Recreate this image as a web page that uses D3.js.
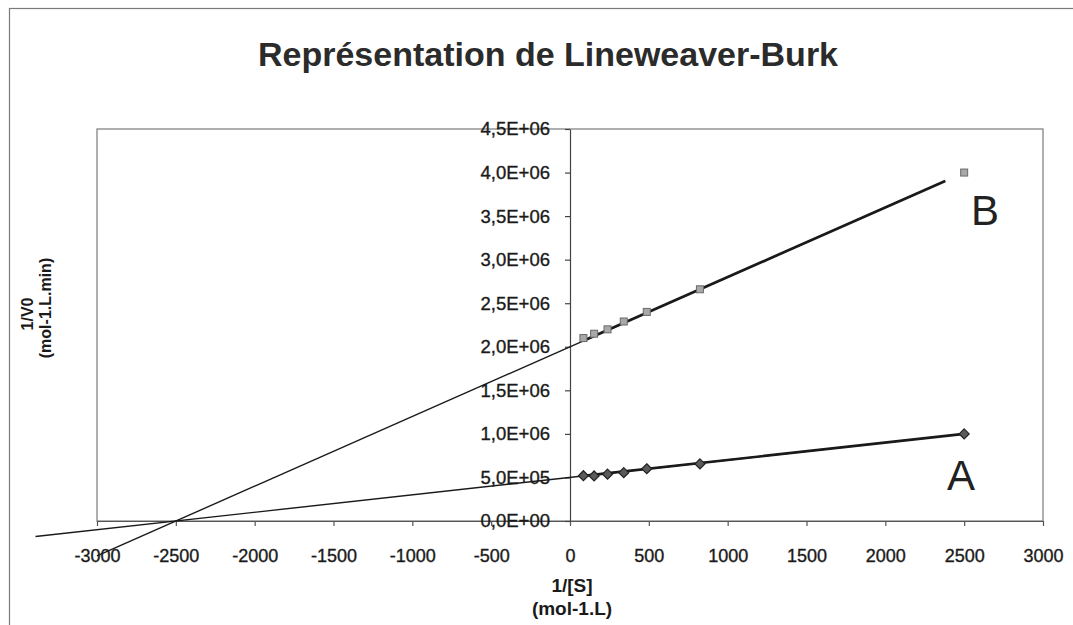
<!DOCTYPE html>
<html>
<head>
<meta charset="utf-8">
<script src="https://cdn.jsdelivr.net/npm/d3@7"></script>
<style>
  html, body { margin: 0; padding: 0; background: #fff; }
  svg { display: block; font-family: "Liberation Sans", Arial, sans-serif; }
</style>
</head>
<body>
<svg id="chart" width="1073" height="625"></svg>
<script>
// 1/[S] values (mol-1.L)
const invS = [85, 153, 238, 341, 487, 824, 2500];
// 1/V0 values (mol-1.L.min) for series A and B
const seriesA = [5.2e5, 5.17e5, 5.38e5, 5.55e5, 6.0e5, 6.55e5, 1.0e6];
const seriesB = [2.1e6, 2.15e6, 2.2e6, 2.29e6, 2.4e6, 2.66e6, 4.0e6];
// Fitted lines: [intercept, slope] and the 1/[S] span they are drawn over
const fitA = [5.0e5, 200];
const fitB = [2.0e6, 800];
const spanA = [-3390, 2500];
const spanB = [-3000, 2380];
// Tick labels
const xTicks = [-3000, -2500, -2000, -1500, -1000, -500, 0, 500, 1000, 1500, 2000, 2500, 3000];
const yTicks = [0, 5e5, 1e6, 1.5e6, 2e6, 2.5e6, 3e6, 3.5e6, 4e6, 4.5e6];

const svg = d3.select("#chart");
const ink = "#1a1a1a";
const frame = "#7a7a7a";

const x = d3.scaleLinear().domain([-3000, 3000]).range([97, 1043]);
const y = d3.scaleLinear().domain([0, 4.5e6]).range([521, 129]);

// Outer chart border
svg.append("rect")
  .attr("x", 9.5).attr("y", 8.5)
  .attr("width", 1090).attr("height", 640)
  .attr("fill", "none").attr("stroke", frame).attr("stroke-width", 1.2);

// Plot area border
svg.append("rect")
  .attr("x", x(-3000)).attr("y", y(4.5e6))
  .attr("width", x(3000) - x(-3000)).attr("height", y(0) - y(4.5e6))
  .attr("fill", "none").attr("stroke", frame).attr("stroke-width", 1.2);

// Title
svg.append("text")
  .attr("x", 548).attr("y", 66)
  .attr("text-anchor", "middle")
  .attr("font-size", 34).attr("font-weight", "bold")
  .attr("fill", "#2b2b2b")
  .text("Représentation de Lineweaver-Burk");

// Number format like "4,5E+06"
const sci = v => {
  const [m, e] = v.toExponential(1).split("e");
  const ex = parseInt(e, 10);
  const sign = ex < 0 ? "-" : "+";
  return m.replace(".", ",") + "E" + sign + String(Math.abs(ex)).padStart(2, "0");
};

// X axis along 1/V0 = 0
const gx = svg.append("g")
  .attr("transform", `translate(0,${y(0)})`)
  .call(d3.axisBottom(x).tickValues(xTicks).tickSize(5).tickSizeOuter(0)
    .tickPadding(23).tickFormat(d => String(d)));
gx.select(".domain").attr("stroke", "#555").attr("stroke-width", 1.2);
gx.selectAll(".tick line").attr("stroke", "#555").attr("stroke-width", 1.2);
gx.selectAll(".tick text")
  .attr("font-size", 18).attr("fill", ink)
  .attr("stroke", ink).attr("stroke-width", 0.35)
  .attr("font-family", "'Liberation Sans', Arial, sans-serif");

// Y axis along 1/[S] = 0
const gy = svg.append("g")
  .attr("transform", `translate(${x(0)},0)`)
  .call(d3.axisLeft(y).tickValues(yTicks).tickSize(5).tickSizeOuter(0)
    .tickPadding(15).tickFormat(sci));
gy.select(".domain").attr("stroke", "#444").attr("stroke-width", 1.2);
gy.selectAll(".tick line").attr("stroke", "#444").attr("stroke-width", 1.2);
gy.selectAll(".tick text")
  .attr("font-size", 18.5).attr("fill", ink)
  .attr("stroke", ink).attr("stroke-width", 0.35)
  .attr("font-family", "'Liberation Sans', Arial, sans-serif");

// Axis titles
const xt = svg.append("text")
  .attr("text-anchor", "middle").attr("font-size", 19).attr("font-weight", "bold").attr("fill", ink);
xt.append("tspan").attr("x", x(0) + 2).attr("y", 592).text("1/[S]");
xt.append("tspan").attr("x", x(0) + 2).attr("y", 615).text("(mol-1.L)");

svg.append("text")
  .attr("transform", "translate(33,314) rotate(-90)")
  .attr("text-anchor", "middle").attr("font-size", 16).attr("font-weight", "bold").attr("fill", ink)
  .text("1/V0");
svg.append("text")
  .attr("transform", "translate(51,308) rotate(-90)")
  .attr("text-anchor", "middle").attr("font-size", 16).attr("font-weight", "bold").attr("fill", ink)
  .text("(mol-1.L.min)");

// Fitted lines: thin over the full span, heavier across the measured range
const fitLine = (fit, span) => span.map(v => [x(v), y(fit[0] + fit[1] * v)]);
const line = d3.line();
[[fitA, spanA], [fitB, spanB]].forEach(([fit, span]) => {
  svg.append("path")
    .attr("d", line(fitLine(fit, span)))
    .attr("fill", "none").attr("stroke", ink).attr("stroke-width", 1.4);
  svg.append("path")
    .attr("d", line(fitLine(fit, [invS[0], span[1]])))
    .attr("fill", "none").attr("stroke", ink).attr("stroke-width", 2.7);
});

// Markers: diamonds for A, squares for B
const diamond = r => `M0,${-r}L${r},0L0,${r}L${-r},0Z`;
svg.append("g").selectAll("path")
  .data(invS.map((v, i) => [v, seriesA[i]]))
  .join("path")
  .attr("transform", d => `translate(${x(d[0])},${y(d[1])})`)
  .attr("d", diamond(5))
  .attr("fill", "#5a5a5a").attr("stroke", "#222").attr("stroke-width", 1.2);

svg.append("g").selectAll("rect")
  .data(invS.map((v, i) => [v, seriesB[i]]))
  .join("rect")
  .attr("x", d => x(d[0]) - 3.5).attr("y", d => y(d[1]) - 3.5)
  .attr("width", 7).attr("height", 7)
  .attr("fill", "#a8a8a8").attr("stroke", "#6a6a6a").attr("stroke-width", 1);

// Series labels
svg.append("text")
  .attr("x", 961).attr("y", 490).attr("text-anchor", "middle")
  .attr("font-size", 42).attr("fill", "#222").text("A");
svg.append("text")
  .attr("x", 985).attr("y", 225).attr("text-anchor", "middle")
  .attr("font-size", 42).attr("fill", "#222").text("B");
</script>
</body>
</html>
